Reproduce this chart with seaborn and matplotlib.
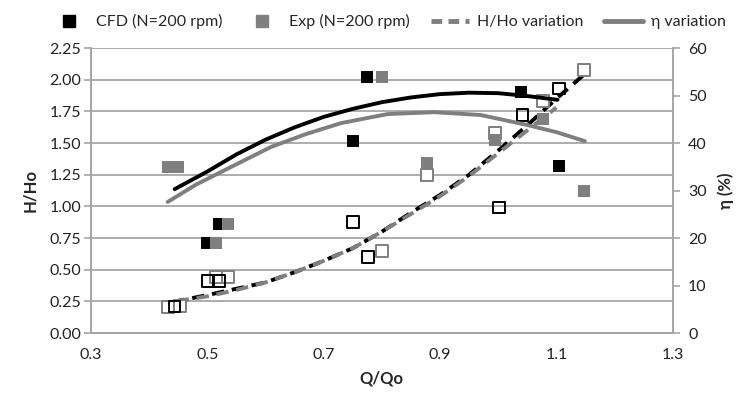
import numpy as np
import pandas as pd
import seaborn as sns
import matplotlib.pyplot as plt
from matplotlib.lines import Line2D

# filled squares: efficiency (right axis)
cfd_eta_q = [0.50, 0.52, 0.75, 0.775, 1.04, 1.105]
cfd_eta = [19.0, 23.0, 40.4, 54.0, 50.8, 35.2]
exp_eta_q = [0.432, 0.449, 0.515, 0.535, 0.80, 0.877, 0.995, 1.077, 1.147]
exp_eta = [35.0, 35.0, 19.0, 23.0, 54.0, 35.7, 40.6, 45.0, 29.9]

# open squares: head ratio (left axis)
cfd_h_q = [0.444, 0.501, 0.52, 0.75, 0.776, 1.001, 1.042, 1.104]
cfd_h = [0.21, 0.41, 0.41, 0.876, 0.60, 0.99, 1.72, 1.93]
exp_h_q = [0.432, 0.453, 0.515, 0.535, 0.80, 0.877, 0.994, 1.077, 1.147]
exp_h = [0.205, 0.21, 0.44, 0.44, 0.65, 1.25, 1.58, 1.83, 2.08]

# trend curves
cfd_hvar_q = [0.44, 0.50, 0.55, 0.60, 0.65, 0.70, 0.75, 0.80, 0.85, 0.90, 0.95, 1.00, 1.05, 1.10, 1.15]
cfd_hvar = [0.245, 0.30, 0.35, 0.40, 0.48, 0.57, 0.67, 0.80, 0.95, 1.09, 1.25, 1.44, 1.64, 1.85, 2.05]
exp_hvar_q = [0.43, 0.50, 0.55, 0.60, 0.65, 0.70, 0.75, 0.80, 0.85, 0.90, 0.95, 1.00, 1.05, 1.10]
exp_hvar = [0.24, 0.29, 0.34, 0.40, 0.48, 0.57, 0.67, 0.80, 0.94, 1.08, 1.24, 1.42, 1.60, 1.78]
cfd_etavar_q = [0.444, 0.50, 0.55, 0.60, 0.65, 0.70, 0.75, 0.80, 0.85, 0.90, 0.95, 1.00, 1.05, 1.102]
cfd_etavar = [30.3, 34.0, 37.6, 40.7, 43.3, 45.5, 47.2, 48.6, 49.6, 50.3, 50.6, 50.5, 49.9, 49.1]
exp_etavar_q = [0.432, 0.48, 0.53, 0.61, 0.67, 0.73, 0.81, 0.89, 0.97, 1.05, 1.10, 1.149]
exp_etavar = [27.6, 31.2, 34.3, 39.2, 41.9, 44.2, 46.1, 46.5, 45.9, 43.8, 42.3, 40.4]

BLACK = "#000000"
GRAY = "#7f7f7f"
GRID = "#a6a6a6"

sns.set_style("white")
plt.rcParams['font.family'] = ['Lato', 'DejaVu Sans']

fig = plt.figure(figsize=(7.45, 3.97), dpi=100)
ax = fig.add_axes([0.122, 0.161, 0.781, 0.718])
ax2 = ax.twinx()

# head ratio (left)
sns.lineplot(x=cfd_hvar_q, y=cfd_hvar, ax=ax, color=BLACK, lw=2.8)
sns.lineplot(x=exp_hvar_q, y=exp_hvar, ax=ax, color=GRAY, lw=2.8)
ax.lines[0].set_linestyle((0, (3.2, 2.0)))
ax.lines[1].set_linestyle((2.6, (3.2, 2.0)))
sns.scatterplot(x=exp_h_q, y=exp_h, ax=ax, marker='s', s=70, facecolor='white',
                edgecolor=GRAY, linewidth=1.4, zorder=3)
sns.scatterplot(x=cfd_h_q, y=cfd_h, ax=ax, marker='s', s=70, facecolor='none',
                edgecolor=BLACK, linewidth=1.4, zorder=4)

# efficiency (right)
sns.lineplot(x=cfd_etavar_q, y=cfd_etavar, ax=ax2, color=BLACK, lw=2.8)
sns.lineplot(x=exp_etavar_q, y=exp_etavar, ax=ax2, color=GRAY, lw=2.8)
sns.scatterplot(x=cfd_eta_q, y=cfd_eta, ax=ax2, marker='s', s=75, color=BLACK,
                edgecolor=BLACK, linewidth=0, zorder=3)
sns.scatterplot(x=exp_eta_q, y=exp_eta, ax=ax2, marker='s', s=75, color=GRAY,
                edgecolor=GRAY, linewidth=0, zorder=4)

ax.set_xlim(0.3, 1.3)
ax.set_ylim(0, 2.25)
ax2.set_ylim(0, 60)
ax.set_xticks(np.arange(0.3, 1.31, 0.2))
ax.set_xticklabels(["0.3", "0.5", "0.7", "0.9", "1.1", "1.3"])
ax.set_yticks(np.arange(0, 2.26, 0.25))
ax.set_yticklabels([f"{v:.2f}" for v in np.arange(0, 2.26, 0.25)])
ax2.set_yticks(range(0, 61, 10))

ax.yaxis.grid(True, color=GRID, lw=1.3)
ax.set_axisbelow(True)
ax.xaxis.grid(False)

for a in (ax, ax2):
    for side in a.spines:
        a.spines[side].set_color(GRID)
        a.spines[side].set_linewidth(1.3)
    a.spines['top'].set_visible(False)
    a.tick_params(axis='both', which='both', length=5, width=1.2, color=GRID,
                  labelsize=11.5, labelcolor='#222222', direction='out')
ax.tick_params(axis='y', pad=2)
ax.tick_params(axis='x', pad=6)
ax2.tick_params(axis='y', pad=6)

ax.set_xlabel("Q/Qo", fontsize=12, fontweight='bold', labelpad=6)
ax.set_ylabel("H/Ho", fontsize=12, fontweight='bold', labelpad=8)
ax2.set_ylabel("η (%)", fontsize=12, fontweight='bold', labelpad=8)

handles = [
    Line2D([], [], marker='s', color=BLACK, ls='none', markersize=8),
    Line2D([], [], marker='s', color=GRAY, ls='none', markersize=8),
    Line2D([], [], color=GRAY, lw=3.5, ls=(0, (2.2, 1.3))),
    Line2D([], [], color=GRAY, lw=3.5),
]
labels = ["CFD (N=200 rpm)", "Exp (N=200 rpm)", "H/Ho variation", "η variation"]
fig.legend(handles, labels, loc='upper center', bbox_to_anchor=(0.52, 1.0), ncol=4,
           frameon=False, fontsize=11.5, handlelength=2.4, columnspacing=1.3,
           handletextpad=0.5)

fig.savefig("out.png", dpi=100)
